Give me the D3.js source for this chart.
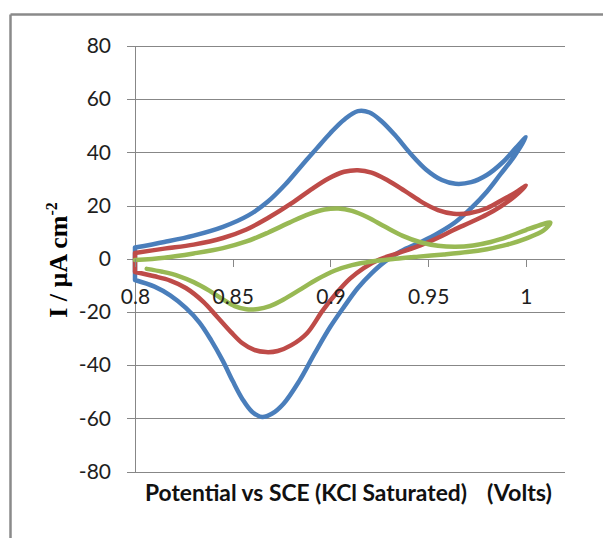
<!DOCTYPE html>
<html>
<head>
<meta charset="utf-8">
<script src="https://cdn.jsdelivr.net/npm/d3@7"></script>
<style>
  html, body { margin: 0; padding: 0; background: #fff; }
  svg { display: block; }
  .tick text { font-family: Lato, "Open Sans", sans-serif; font-size: 21px; fill: #1e1e1e; }
</style>
</head>
<body>
<script>
// cyclic voltammograms, [potential (V), current (µA cm-2)], forward sweep then reverse
const blueCurve = [
  [0.800, 4.2], [0.815, 6.3], [0.830, 8.7], [0.845, 12.0], [0.858, 16.3], [0.868, 21.5],
  [0.877, 28.0], [0.885, 34.8], [0.893, 41.5], [0.900, 47.3], [0.907, 52.3], [0.914, 55.5],
  [0.920, 55.0], [0.926, 51.8], [0.933, 46.5], [0.941, 39.5], [0.949, 33.5], [0.957, 29.6],
  [0.964, 28.2], [0.972, 28.8], [0.980, 31.5], [0.988, 36.2], [0.995, 41.8], [1.000, 45.7],
  [0.994, 38.5], [0.987, 31.8], [0.980, 25.2], [0.972, 19.0], [0.964, 13.8], [0.955, 9.6],
  [0.946, 6.2], [0.936, 2.8], [0.928, -1.0], [0.921, -5.5], [0.914, -11.0], [0.907, -18.0],
  [0.900, -25.5], [0.892, -35.5], [0.884, -46.0], [0.876, -54.5], [0.870, -58.3], [0.865, -59.5],
  [0.860, -57.6], [0.855, -52.8], [0.850, -46.0], [0.845, -38.5], [0.839, -30.7], [0.833, -24.0],
  [0.826, -18.5], [0.818, -13.8], [0.810, -10.5], [0.800, -8.0]
]
const redCurve = [
  [0.800, 2.2], [0.815, 3.8], [0.830, 5.3], [0.845, 7.8], [0.857, 11.0], [0.868, 15.3],
  [0.880, 20.8], [0.890, 26.0], [0.899, 30.2], [0.907, 32.7], [0.914, 33.3], [0.921, 32.4],
  [0.929, 29.6], [0.938, 25.5], [0.947, 21.2], [0.955, 18.3], [0.963, 16.9], [0.971, 17.1],
  [0.980, 19.0], [0.989, 22.6], [0.995, 25.0], [1.000, 27.5],
  [0.994, 23.3], [0.987, 19.6], [0.980, 16.6], [0.972, 13.8], [0.963, 10.8], [0.955, 7.9],
  [0.946, 5.0], [0.935, 2.2], [0.925, -0.3], [0.917, -3.5], [0.910, -7.5], [0.903, -13.0],
  [0.896, -19.5], [0.888, -28.0], [0.880, -32.5], [0.873, -34.7], [0.867, -35.1], [0.861, -34.3],
  [0.855, -31.8], [0.849, -27.5], [0.842, -21.8], [0.835, -16.2], [0.826, -11.0], [0.818, -8.2],
  [0.810, -6.6], [0.800, -5.0]
]
const greenCurve = [
  [0.800, -0.5], [0.815, 0.4], [0.830, 2.0], [0.845, 4.0], [0.857, 6.5], [0.868, 9.8],
  [0.879, 13.6], [0.889, 16.8], [0.897, 18.5], [0.904, 18.9], [0.911, 18.0], [0.919, 15.6],
  [0.928, 12.0], [0.937, 8.6], [0.946, 6.2], [0.955, 4.9], [0.964, 4.5], [0.973, 5.0],
  [0.982, 6.3], [0.991, 8.3], [1.000, 10.8], [1.007, 12.6], [1.0125, 13.6],
  [1.009, 10.6], [1.000, 7.6], [0.990, 5.2], [0.980, 3.6], [0.970, 2.5], [0.958, 1.6],
  [0.945, 0.8], [0.933, 0.0], [0.921, -1.0], [0.911, -2.4], [0.902, -4.5], [0.893, -7.8],
  [0.884, -11.8], [0.876, -15.3], [0.869, -17.8], [0.863, -18.9], [0.857, -19.0], [0.851, -17.8],
  [0.845, -15.3], [0.838, -12.0], [0.830, -8.8], [0.822, -6.4], [0.814, -4.9], [0.806, -3.8]
]
const seriesColors = ["#4a7ebb", "#be4b48", "#98b954"]
const closedLoop = [true, true, false]

const xTicks = [0.8, 0.85, 0.9, 0.95, 1]
const yTicks = [-80, -60, -40, -20, 0, 20, 40, 60, 80]

const svgWidth = 603
const svgHeight = 538
const margin = { top: 46, left: 135, right: 38, bottom: 66.5 }
const w = svgWidth - margin.left - margin.right
const h = svgHeight - margin.top - margin.bottom

const xScale = d3.scaleLinear().domain([0.8, 1.02]).range([0, w])
const yScale = d3.scaleLinear().domain([-80, 80]).range([h, 0])

const svg = d3.select("body").append("svg")
  .attr("width", svgWidth)
  .attr("height", svgHeight)

// outer frame (only top and left edges are visible)
svg.append("line").attr("x1", 10.5).attr("y1", 14.5).attr("x2", svgWidth).attr("y2", 14.5)
  .attr("stroke", "#8a8a8a").attr("stroke-width", 2.5)
svg.append("line").attr("x1", 10.5).attr("y1", 14.5).attr("x2", 10.5).attr("y2", svgHeight)
  .attr("stroke", "#8a8a8a").attr("stroke-width", 2.5)

const g = svg.append("g")
  .attr("transform", "translate(" + margin.left + "," + margin.top + ")")

// horizontal gridlines + y labels
const yAxis = d3.axisLeft(yScale)
  .tickValues(yTicks)
  .tickSizeInner(-w)
  .tickSizeOuter(0)
  .tickPadding(24)
  .tickFormat(d => String(d))
const yG = g.append("g").call(yAxis)
yG.select(".domain").remove()
yG.selectAll(".tick line")
  .attr("x1", -8)
  .attr("stroke", "#878787")
  .attr("shape-rendering", "crispEdges")

// vertical axis line
g.append("line")
  .attr("x1", 0).attr("x2", 0)
  .attr("y1", yScale(80)).attr("y2", yScale(-80))
  .attr("stroke", "#878787")
  .attr("shape-rendering", "crispEdges")

// the curves
const line = d3.line()
  .x(d => xScale(d[0]))
  .y(d => yScale(d[1]))
  .curve(d3.curveCatmullRom.alpha(0.5))

const curves = [blueCurve, redCurve, greenCurve]
curves.forEach(function (pts, i) {
  let path = line(pts)
  if (closedLoop[i]) path += "L" + xScale(pts[0][0]) + "," + yScale(pts[0][1])
  g.append("path")
    .attr("d", path)
    .attr("fill", "none")
    .attr("stroke", seriesColors[i])
    .attr("stroke-width", 4.5)
    .attr("stroke-linejoin", "round")
    .attr("stroke-linecap", "round")
})

// x axis crossing at 0
const xAxis = d3.axisBottom(xScale)
  .tickValues(xTicks)
  .tickSizeInner(8)
  .tickSizeOuter(0)
  .tickPadding(22)
  .tickFormat(d => String(d))
const xG = g.append("g")
  .attr("transform", "translate(0," + yScale(0) + ")")
  .call(xAxis)
xG.select(".domain").remove()
xG.selectAll(".tick line")
  .attr("stroke", "#878787")
  .attr("shape-rendering", "crispEdges")

// x-axis title
svg.append("text")
  .attr("x", 145)
  .attr("y", 501)
  .attr("textLength", 322)
  .attr("lengthAdjust", "spacingAndGlyphs")
  .style("font-family", "Lato, sans-serif")
  .style("font-weight", "bold")
  .style("font-size", "22px")
  .style("fill", "#111")
  .text("Potential vs SCE (KCl Saturated)")
svg.append("text")
  .attr("x", 487)
  .attr("y", 501)
  .attr("textLength", 65)
  .attr("lengthAdjust", "spacingAndGlyphs")
  .style("font-family", "Lato, sans-serif")
  .style("font-weight", "bold")
  .style("font-size", "22px")
  .style("fill", "#111")
  .text("(Volts)")

// y-axis title
const yTitle = svg.append("text")
  .attr("transform", "translate(67,260) rotate(-90)")
  .attr("text-anchor", "middle")
  .style("font-family", "'Liberation Serif', 'Times New Roman', serif")
  .style("font-weight", "bold")
  .style("font-size", "26px")
  .style("fill", "#000")
yTitle.append("tspan").text("I / \u00b5A cm")
yTitle.append("tspan")
  .attr("dy", -10)
  .style("font-size", "16px")
  .text("-2")
</script>
</body>
</html>
